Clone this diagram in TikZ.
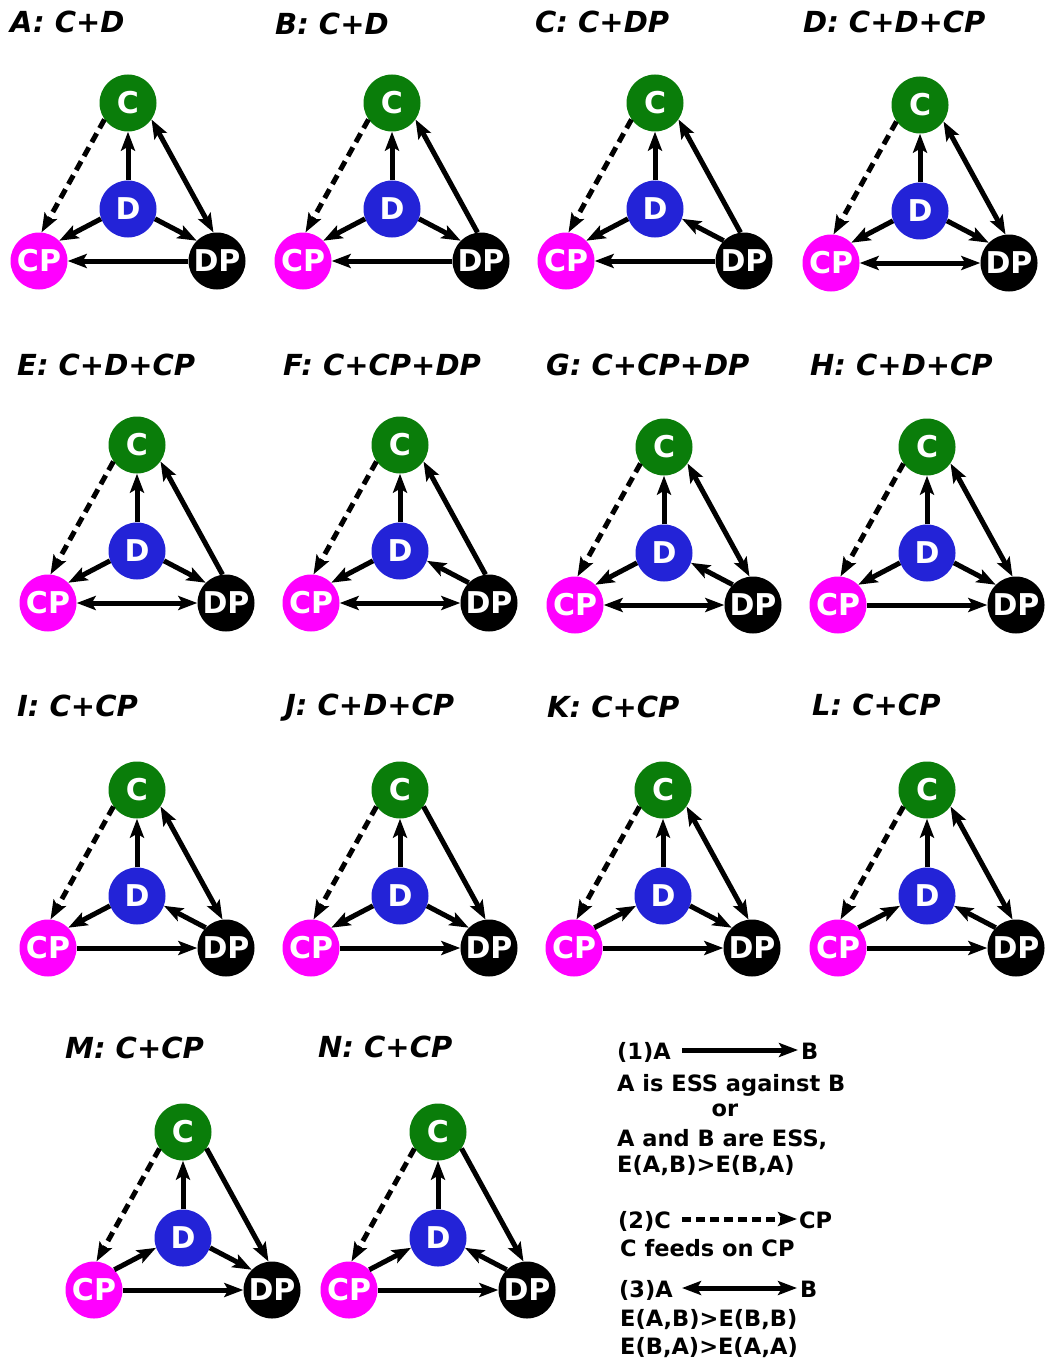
\documentclass[tikz,border=0pt]{standalone}
\usepackage{fontspec}
\setmainfont{DejaVu Sans}
\usetikzlibrary{arrows.meta}
\definecolor{cgreen}{RGB}{10,125,10}
\definecolor{dblue}{RGB}{35,35,215}
\definecolor{cpmag}{RGB}{255,0,255}
\tikzset{
  pop/.style={circle, minimum size=57pt, inner sep=0pt, text=white,
    font=\fontsize{30}{30}\selectfont\bfseries},
  popC/.style={pop, fill=cgreen},
  popD/.style={pop, fill=dblue},
  popCP/.style={pop, fill=cpmag},
  popDP/.style={pop, fill=black},
  link/.style={line width=5pt, >={Stealth[length=19pt,width=14pt,inset=4pt]}},
  feed/.style={link, dash pattern=on 10pt off 6pt, ->},
  ptitle/.style={anchor=base west, inner sep=0pt,
    font=\fontsize{29}{29}\selectfont\bfseries\itshape},
  legtext/.style={anchor=base west, inner sep=0pt, text height=18pt, text depth=0pt,
    font=\fontsize{22.5}{22.5}\selectfont\bfseries},
}
\newcommand\tripanel[7]{%
  \node[popC] (#1-C) at (#2,#3) {C};
  \node[popD] (#1-D) at (#2,#3+106) {D};
  \node[popCP] (#1-CP) at (#2-89,#3+158) {CP};
  \node[popDP] (#1-DP) at (#2+89,#3+158) {DP};
  \draw[link,->] (#1-D) -- (#1-C);
  \draw[feed] (#1-C.215) -- (#1-CP.85);
  \draw[link,#4] (#1-D.200) -- (#1-CP.45);
  \draw[link,#5] (#1-D.340) -- (#1-DP.135);
  \draw[link,#6] (#1-C.325) -- (#1-DP.97);
  \draw[link,#7] (#1-CP) -- (#1-DP);
}
\begin{document}
\begin{tikzpicture}[x=1pt,y=-1pt]
\useasboundingbox[fill=white] (0,0) rectangle (1044,1359);
% titles
\node[ptitle] (tA) at (10,33) {A: C+D};
\node[ptitle] (tB) at (275,35) {B: C+D};
\node[ptitle] (tC) at (535,33) {C: C+DP};
\node[ptitle] (tD) at (803,33) {D: C+D+CP};
\node[ptitle] (tE) at (17,375) {E: C+D+CP};
\node[ptitle] (tF) at (283,375) {F: C+CP+DP};
\node[ptitle] (tG) at (546,375) {G: C+CP+DP};
\node[ptitle] (tH) at (810,375) {H: C+D+CP};
\node[ptitle] (tI) at (17,716) {I: C+CP};
\node[ptitle] (tJ) at (285,715) {J: C+D+CP};
\node[ptitle] (tK) at (547,717) {K: C+CP};
\node[ptitle] (tL) at (812,715) {L: C+CP};
\node[ptitle] (tM) at (65,1058) {M: C+CP};
\node[ptitle] (tN) at (318,1057) {N: C+CP};
% panels
\tripanel{A}{128}{103}{->}{->}{<->}{<-}
\tripanel{B}{392}{103}{->}{->}{<-}{<-}
\tripanel{C}{655}{103}{->}{<-}{<-}{<-}
\tripanel{D}{920}{105}{->}{->}{<->}{<->}
\tripanel{E}{137}{445}{->}{->}{<-}{<->}
\tripanel{F}{400}{445}{->}{<-}{<-}{<->}
\tripanel{G}{664}{447}{->}{<-}{<->}{<->}
\tripanel{H}{927}{447}{->}{->}{<->}{->}
\tripanel{I}{137}{790}{->}{<-}{<->}{->}
\tripanel{J}{400}{790}{->}{->}{->}{->}
\tripanel{K}{663}{790}{<-}{->}{<->}{->}
\tripanel{L}{927}{790}{<-}{<-}{<->}{->}
\tripanel{M}{183}{1132}{<-}{->}{->}{->}
\tripanel{N}{438}{1132}{<-}{<-}{->}{->}
% legend
\node[legtext] (l1a) at (617,1059) {(1)A};
\node[legtext] (l1b) at (801,1059) {B};
\draw[link,->,shorten <=11pt,shorten >=3pt] (l1a) -- (l1b);
\node[legtext] (l1c) at (617,1091) {A is ESS against B};
\node[legtext,anchor=base] (l1d) at (725,1116) {or};
\node[legtext] (l1e) at (617,1146) {A and B are ESS,};
\node[legtext] (l1f) at (617,1172) {E(A,B)>E(B,A)};
\node[legtext] (l2a) at (618,1228) {(2)C};
\node[legtext] (l2b) at (799,1228) {CP};
\draw[link,->,dash pattern=on 9pt off 5pt,shorten <=11pt,shorten >=2pt] (l2a) -- (l2b);
\node[legtext] (l2c) at (620,1256) {C feeds on CP};
\node[legtext] (l3a) at (619,1297) {(3)A};
\node[legtext] (l3b) at (800,1297) {B};
\draw[link,<->,shorten <=9pt,shorten >=3pt] (l3a) -- (l3b);
\node[legtext] (l3c) at (620,1326) {E(A,B)>E(B,B)};
\node[legtext] (l3d) at (620,1354) {E(B,A)>E(A,A)};
\end{tikzpicture}
\end{document}
